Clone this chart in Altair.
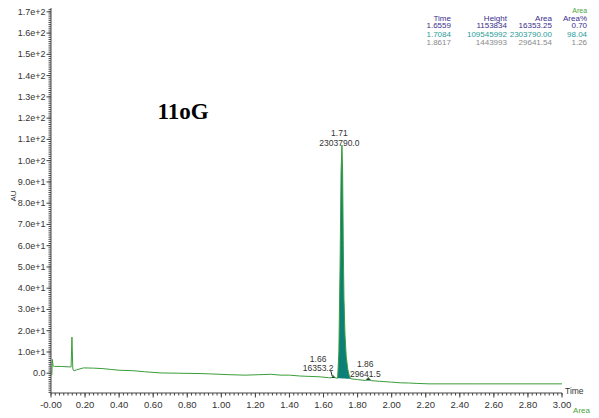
import altair as alt
import pandas as pd

# ---- chromatogram trace (Time in min, signal in AU) ----
trace_time = [0.000, 0.005, 0.008, 0.012, 0.020, 0.060, 0.100, 0.118, 0.123, 0.128, 0.135,
              0.150, 0.190, 0.250, 0.300, 0.350, 0.400, 0.480, 0.550, 0.640, 0.750, 0.875,
              0.930, 1.050, 1.140, 1.220, 1.290, 1.350, 1.400, 1.460, 1.520, 1.580, 1.630,
              1.645, 1.652, 1.656, 1.662, 1.672, 1.683, 1.690, 1.697, 1.703, 1.708, 1.712,
              1.716, 1.720, 1.726, 1.733, 1.742, 1.752, 1.760, 1.800, 1.845, 1.855, 1.862,
              1.870, 1.880, 1.930, 2.000, 2.050, 2.100, 2.150, 2.220, 2.500, 2.800, 3.000]
trace_au = [-1.0, -0.5, 6.5, 3.5, 3.2, 3.2, 3.0, 3.0, 17.0, 2.0, 1.1,
            1.6, 2.5, 2.4, 2.2, 1.8, 1.4, 1.2, 0.7, 0.15, 0.0, -0.15,
            -0.3, -0.7, -0.9, -0.7, -0.5, -0.9, -0.9, -1.3, -1.5, -1.7, -2.1,
            -2.2, -1.6, -1.05, -1.6, -2.3, -2.3, 10.0, 50.0, 95.0, 107.3, 95.0,
            60.0, 35.0, 18.0, 8.0, 2.0, -1.5, -2.6, -3.0, -3.4, -2.7, -2.0,
            -2.6, -3.5, -3.8, -4.2, -4.5, -4.6, -4.8, -5.0, -5.0, -5.0, -5.0]

# ---- integrated peak fills ----
main_time = [1.683, 1.690, 1.697, 1.703, 1.708, 1.712, 1.716, 1.720, 1.726, 1.733, 1.742, 1.752, 1.760]
main_au = [-2.3, 10.0, 50.0, 95.0, 107.3, 95.0, 60.0, 35.0, 18.0, 8.0, 2.0, -1.5, -2.6]
main_base = [-2.3, -2.35, -2.4, -2.4, -2.45, -2.45, -2.5, -2.5, -2.5, -2.55, -2.55, -2.6, -2.6]

small1_time = [1.645, 1.652, 1.656, 1.662, 1.672]
small1_au = [-2.2, -1.6, -1.05, -1.6, -2.3]
small1_base = [-2.2, -2.22, -2.24, -2.27, -2.3]

small2_time = [1.845, 1.855, 1.862, 1.870, 1.880]
small2_au = [-3.4, -2.7, -2.0, -2.6, -3.5]
small2_base = [-3.4, -3.42, -3.44, -3.47, -3.5]

# ---- peak labels ----
lab_time = [1.693, 1.693, 1.568, 1.568, 1.845, 1.845]
lab_au = [112.9, 108.4, 6.7, 2.5, 4.2, -0.2]
lab_text = ["1.71", "2303790.0", "1.66", "16353.2", "1.86", "29641.5"]

# ---- peak table (positions in chart data units) ----
tbl_header = ["Time", "Height", "Area", "Area%"]
tbl_rows = [["1.6559", "1153834", "16353.25", "0.70"],
            ["1.7084", "109545992", "2303790.00", "98.04"],
            ["1.8617", "1443993", "29641.54", "1.26"]]
tbl_colors = ["#3a2d8c", "#2a9c98", "#8a8a8a"]
tbl_col_t = [2.348, 2.677, 2.941, 3.147]
tbl_row_au = [166.8, 163.1, 159.3, 155.5]
tbl_top_au = 170.2

# ---- axis ticks and labels ----
x_minor = [round(i * 0.025, 3) for i in range(0, 121)]
x_major = [round(i * 0.2, 2) for i in range(0, 16)]
x_labels = ["-0.00", "0.20", "0.40", "0.60", "0.80", "1.00", "1.20", "1.40",
            "1.60", "1.80", "2.00", "2.20", "2.40", "2.60", "2.80", "3.00"]
y_minor = list(range(-9, 172))
y_major = list(range(0, 171, 10))
y_labels = ["0.0", "1.0e+1", "2.0e+1", "3.0e+1", "4.0e+1", "5.0e+1", "6.0e+1",
            "7.0e+1", "8.0e+1", "9.0e+1", "1.0e+2", "1.1e+2", "1.2e+2", "1.3e+2",
            "1.4e+2", "1.5e+2", "1.6e+2", "1.7e+2"]

XDOM = [0, 3.0]
YDOM = [-9.3, 171.8]
W, H = 511, 385

xs = alt.Scale(domain=XDOM, nice=False, zero=False)
ys = alt.Scale(domain=YDOM, nice=False, zero=False)

AXC = "#444444"
FONT = "Liberation Sans"


def X(f):
    return alt.X(f, scale=xs, axis=None)


def Y(f):
    return alt.Y(f, scale=ys, axis=None)


df_trace = pd.DataFrame({"t": trace_time, "au": trace_au})
line = alt.Chart(df_trace).mark_line(color="#3a9d3a", strokeWidth=1).encode(
    x=X("t:Q"), y=Y("au:Q"))

df_main = pd.DataFrame({"t": main_time, "au": main_au, "b": main_base})
main_fill = alt.Chart(df_main).mark_area(color="#0b7f78", opacity=1).encode(
    x=X("t:Q"), y=Y("au:Q"), y2="b:Q")

df_s = pd.DataFrame({"t": small1_time + small2_time,
                     "au": small1_au + small2_au,
                     "b": small1_base + small2_base,
                     "p": ["a"] * 5 + ["b"] * 5})
small_fill = alt.Chart(df_s).mark_area(color="#1c3d3a", opacity=1).encode(
    x=X("t:Q"), y=Y("au:Q"), y2="b:Q", detail="p:N")

# ---- hand-built axes ----
x_dom = alt.Chart(pd.DataFrame({"k": ["x"]})).mark_rule(color=AXC, strokeWidth=1).encode(
    x=alt.value(0), x2=alt.value(W), y=alt.value(H))
y_dom = alt.Chart(pd.DataFrame({"k": ["y"]})).mark_rule(color=AXC, strokeWidth=1).encode(
    x=alt.value(0), y=alt.value(0), y2=alt.value(H))

xmin = alt.Chart(pd.DataFrame({"t": x_minor})).mark_rule(color=AXC, strokeWidth=1).encode(
    x=X("t:Q"), y=alt.value(H), y2=alt.value(H + 2.5))
xmaj = alt.Chart(pd.DataFrame({"t": x_major})).mark_rule(color=AXC, strokeWidth=1).encode(
    x=X("t:Q"), y=alt.value(H), y2=alt.value(H + 4.5))
xlab = alt.Chart(pd.DataFrame({"t": x_major, "s": x_labels})).mark_text(
    font=FONT, fontSize=9.5, color="#333333", align="center", baseline="middle").encode(
    x=X("t:Q"), y=alt.value(H + 12), text="s:N")

ymin = alt.Chart(pd.DataFrame({"v": y_minor})).mark_rule(color=AXC, strokeWidth=1).encode(
    y=Y("v:Q"), x=alt.value(-2.5), x2=alt.value(0))
ymaj = alt.Chart(pd.DataFrame({"v": y_major})).mark_rule(color=AXC, strokeWidth=1).encode(
    y=Y("v:Q"), x=alt.value(-4.5), x2=alt.value(0))
ylab = alt.Chart(pd.DataFrame({"v": y_major, "s": y_labels})).mark_text(
    font=FONT, fontSize=9, color="#333333", align="right", baseline="middle").encode(
    y=Y("v:Q"), x=alt.value(-5.5), text="s:N")

# ---- annotations ----
df_lab = pd.DataFrame({"t": lab_time, "au": lab_au, "txt": lab_text})
labels = alt.Chart(df_lab).mark_text(font=FONT, fontSize=8.5, color="#333333",
                                     baseline="middle", align="center").encode(
    x=X("t:Q"), y=Y("au:Q"), text="txt:N")

df_arrow = pd.DataFrame({"t": [1.643], "t2": [1.651], "a": [1.0], "a2": [-1.4]})
arrow = alt.Chart(df_arrow).mark_rule(color="#222222", strokeWidth=1).encode(
    x=X("t:Q"), x2="t2:Q", y=Y("a:Q"), y2="a2:Q")

trows = []
for j, h in enumerate(tbl_header):
    trows.append({"t": tbl_col_t[j], "au": tbl_row_au[0], "txt": h, "c": "#3a2d8c"})
for i, row in enumerate(tbl_rows):
    for j, v in enumerate(row):
        trows.append({"t": tbl_col_t[j], "au": tbl_row_au[i + 1], "txt": v, "c": tbl_colors[i]})
df_tbl = pd.DataFrame(trows)
table = alt.Chart(df_tbl).mark_text(font=FONT, fontSize=8, align="right",
                                    baseline="middle").encode(
    x=X("t:Q"), y=Y("au:Q"),
    text="txt:N", color=alt.Color("c:N", scale=None, legend=None))

top_area = alt.Chart(pd.DataFrame({"t": [tbl_col_t[3]], "au": [tbl_top_au], "txt": ["Area"]})).mark_text(
    font=FONT, fontSize=7, color="#4aa63a", align="right", baseline="middle").encode(
    x=X("t:Q"), y=Y("au:Q"), text="txt:N")

title = alt.Chart(pd.DataFrame({"txt": ["11oG"]})).mark_text(
    font="Liberation Serif", fontSize=23, fontWeight="bold", color="#000000",
    align="center", baseline="middle").encode(
    x=alt.value(132), y=alt.value(104), text="txt:N")

au_title = alt.Chart(pd.DataFrame({"txt": ["AU"]})).mark_text(
    font=FONT, fontSize=8, color="#333333", angle=270,
    align="center", baseline="middle").encode(
    x=alt.value(-37.5), y=alt.value(188), text="txt:N")

time_title = alt.Chart(pd.DataFrame({"txt": ["Time"]})).mark_text(
    font=FONT, fontSize=8.5, color="#333333", align="left",
    baseline="middle").encode(
    x=alt.value(514), y=alt.value(383), text="txt:N")

area_bottom = alt.Chart(pd.DataFrame({"txt": ["Area"]})).mark_text(
    font=FONT, fontSize=8, color="#4aa63a", align="right",
    baseline="middle").encode(
    x=alt.value(539), y=alt.value(403), text="txt:N")

chart = alt.layer(
    main_fill, small_fill, line, x_dom, y_dom, xmin, xmaj, xlab, ymin, ymaj, ylab,
    arrow, labels, table, top_area, title, au_title, time_title, area_bottom
).properties(
    width=W, height=H,
    autosize=alt.AutoSizeParams(type="none"),
    padding={"left": 43, "top": 0, "right": 29, "bottom": 25},
    background="white",
).configure_view(stroke=None)

chart.save("out.html", embed_options={"renderer": "svg", "actions": False})
